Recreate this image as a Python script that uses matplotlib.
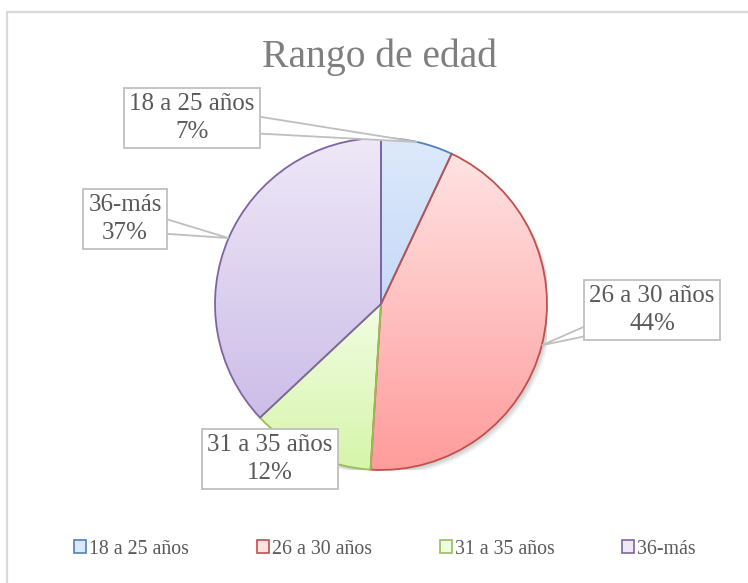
import numpy as np
import matplotlib.pyplot as plt
from matplotlib.patches import Patch, Polygon
from matplotlib.colors import LinearSegmentedColormap

# --------------------------------------------------
# Data
# --------------------------------------------------
categories = ['18 a 25 años', '26 a 30 años', '31 a 35 años', '36-más']
percent = [7, 44, 12, 37]

edge_colors = ['#4f81bd', '#c0504d', '#9bbb59', '#8064a2']
top_colors = ['#dde9fb', '#ffe3e3', '#f1fde2', '#eee8f7']
bottom_colors = ['#c6d9f7', '#ff9b9b', '#d6f5aa', '#ccbde8']

# label box centres in pixels (layout only)
label_px = [(192, 118), (652, 310), (270, 459), (125, 219)]
has_pointer = [True, True, False, True]

W, H = 748, 583
CX, CY, R = 381, 304, 166

plt.rcParams['font.family'] = ['Liberation Serif', 'DejaVu Serif']

fig = plt.figure(figsize=(W / 100, H / 100), dpi=100)

# outer chart border
fig.add_artist(plt.Line2D([6.5 / W, 6.5 / W, 1.0], [0.0, 1 - 11.5 / H, 1 - 11.5 / H],
                          color='#d9d9d9', lw=1.6, transform=fig.transFigure))

ax = fig.add_axes([(CX - R) / W, (H - CY - R) / H, 2 * R / W, 2 * R / H])
ax.set_xlim(-1, 1)
ax.set_ylim(-1, 1)
ax.set_aspect('equal')
ax.axis('off')

def px2d(px, py):
    return (px - CX) / R, (CY - py) / R

# soft drop shadow
for i, a in enumerate([0.05, 0.05, 0.04, 0.03]):
    sh = plt.Circle((0.012 + i * 0.006, -0.015 - i * 0.006), 1.0, color='black',
                    alpha=a, lw=0, zorder=0)
    ax.add_patch(sh)

wedges, _ = ax.pie(percent, startangle=90, counterclock=False, radius=1.0,
                   wedgeprops=dict(linewidth=1.3))

for w, ec, tc, bc in zip(wedges, edge_colors, top_colors, bottom_colors):
    w.set_facecolor('none')
    w.set_edgecolor(ec)
    w.set_zorder(3)
    # gradient fill clipped to the wedge
    verts = w.get_path().vertices
    y0, y1 = verts[:, 1].min(), verts[:, 1].max()
    x0, x1 = verts[:, 0].min(), verts[:, 0].max()
    cmap = LinearSegmentedColormap.from_list('g', [bc, tc])
    grad = np.linspace(0, 1, 256).reshape(-1, 1)
    im = ax.imshow(grad, cmap=cmap, extent=[x0, x1, y0, y1], origin='lower',
                   aspect='auto', zorder=2)
    im.set_clip_path(w)

ax.set_xlim(-1, 1)
ax.set_ylim(-1, 1)

# labels with callout pointers
for w, cat, p, (lx, ly), ptr in zip(wedges, categories, percent, label_px, has_pointer):
    tx, ty = px2d(lx, ly)
    if ptr:
        mid = np.deg2rad((w.theta1 + w.theta2) / 2)
        tipx, tipy = np.cos(mid), np.sin(mid)
        d = np.array([tipx - tx, tipy - ty])
        d = d / np.hypot(*d)
        n = np.array([-d[1], d[0]]) * (12 / R)
        tri = Polygon([(tx + n[0], ty + n[1]), (tipx, tipy), (tx - n[0], ty - n[1])],
                      closed=True, facecolor='white', edgecolor='#bfbfbf', lw=1.3,
                      zorder=5, clip_on=False)
        ax.add_patch(tri)
    ax.text(tx, ty, f'{cat}\n{p}%', ha='center', va='center', multialignment='center',
            fontsize=18, color='#595959', linespacing=1.35, zorder=6, clip_on=False,
            bbox=dict(boxstyle='square,pad=0.22', facecolor='white',
                      edgecolor='#bfbfbf', lw=1.3))

# title
fig.text(380 / W, 1 - 67 / H, 'Rango de edad', ha='center', va='baseline',
         fontsize=28.5, color='#7f7f7f')

# legend
handles = [Patch(facecolor=t, edgecolor=e, lw=1.2) for t, e in zip(top_colors, edge_colors)]
fig.legend(handles, categories, loc='center', bbox_to_anchor=(385 / W, 1 - 549 / H),
           ncol=4, frameon=False, fontsize=14.3, handlelength=0.62, handleheight=0.62,
           handletextpad=0.15, columnspacing=3.4, labelcolor='#595959')

fig.savefig('out.png', dpi=100)
